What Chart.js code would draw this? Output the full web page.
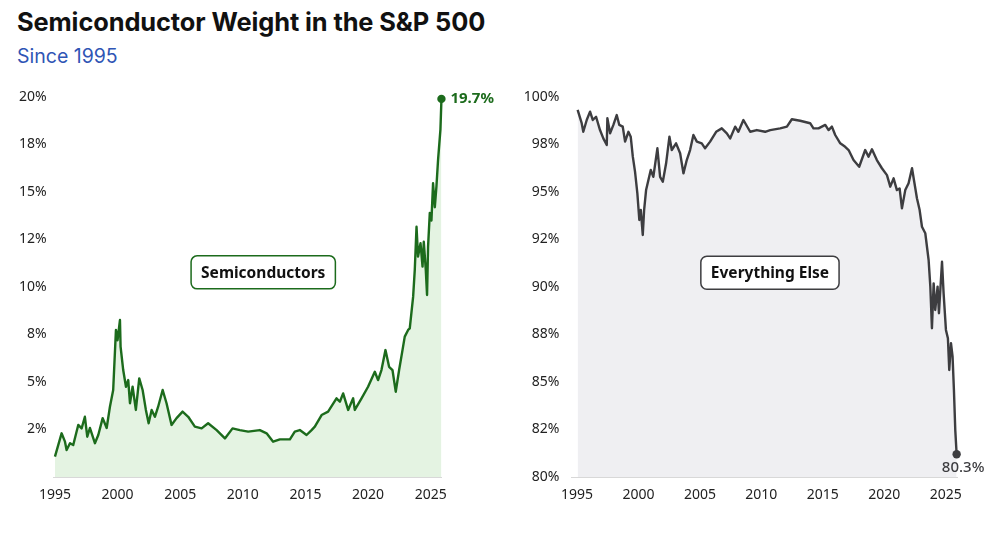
<!DOCTYPE html>
<html>
<head>
<meta charset="utf-8">
<script src="https://cdn.jsdelivr.net/npm/chart.js@4.4.1/dist/chart.umd.min.js"></script>
<style>
  html, body { margin: 0; padding: 0; background: #fff; }
  body { width: 1000px; height: 551px; position: relative; overflow: hidden; }
  #title { position: absolute; left: 17px; top: 7px; font: 700 25.4px/30px Inter, sans-serif; color: #111; letter-spacing: -0.1px; }
  #subtitle { position: absolute; left: 17px; top: 44px; font: 400 19.5px/25px Inter, sans-serif; color: #2f55b5; }
  canvas { position: absolute; top: 0; }
  #leftChart { left: 0; }
  #rightChart { left: 500px; }
</style>
</head>
<body>
<div id="title">Semiconductor Weight in the S&amp;P 500</div>
<div id="subtitle">Since 1995</div>
<canvas id="leftChart" width="500" height="551"></canvas>
<canvas id="rightChart" width="500" height="551"></canvas>
<script>
// Semiconductor weight (%)
const semiYears = [
    1995.00, 1995.53, 1995.80, 1995.93, 1996.20, 1996.46, 1996.86, 1997.13, 1997.39, 1997.58,
    1997.79, 1998.19, 1998.46, 1998.81, 1999.13, 1999.39, 1999.65, 1999.87, 2000.00, 2000.19,
    2000.24, 2000.45, 2000.67, 2000.85, 2000.99, 2001.20, 2001.46, 2001.73, 2002.00, 2002.26,
    2002.48, 2002.72, 2002.98, 2003.24, 2003.60, 2003.91, 2004.31, 2004.71, 2005.19, 2005.64,
    2006.17, 2006.71, 2007.23, 2007.91, 2008.57, 2009.18, 2009.76, 2010.43, 2011.36, 2011.90,
    2012.42, 2012.96, 2013.76, 2014.15, 2014.55, 2015.09, 2015.49, 2015.75, 2016.29, 2016.81,
    2017.48, 2017.75, 2018.01, 2018.41, 2018.81, 2018.94, 2019.48, 2020.00, 2020.54, 2020.80,
    2021.07, 2021.39, 2021.68, 2021.95, 2022.21, 2022.48, 2022.75, 2022.93, 2023.20, 2023.33,
    2023.60, 2023.73, 2023.87, 2023.99, 2024.19, 2024.35, 2024.45, 2024.61, 2024.71, 2024.79,
    2024.93, 2025.06, 2025.19, 2025.33, 2025.46, 2025.59, 2025.78, 2025.86
];
const semiValues = [
    1.07, 2.30, 1.86, 1.42, 1.78, 1.68, 2.74, 2.56, 3.17, 2.12,
    2.58, 1.78, 2.21, 3.10, 2.58, 3.70, 4.58, 7.74, 7.20, 8.26,
    6.86, 5.63, 4.75, 5.10, 3.88, 4.75, 3.53, 5.19, 4.58, 3.53,
    2.83, 3.53, 3.17, 3.70, 4.58, 3.88, 2.74, 3.10, 3.44, 3.17,
    2.65, 2.56, 2.83, 2.47, 2.03, 2.56, 2.47, 2.39, 2.47, 2.30,
    1.86, 1.98, 1.98, 2.39, 2.47, 2.21, 2.47, 2.65, 3.26, 3.44,
    4.14, 3.96, 4.40, 3.53, 4.14, 3.53, 4.14, 4.75, 5.54, 5.10,
    5.63, 6.68, 5.80, 5.63, 4.49, 5.63, 6.68, 7.39, 7.74, 7.82,
    9.49, 10.90, 13.17, 11.60, 12.30, 11.07, 12.38, 10.90, 9.58, 12.10,
    13.90, 13.50, 15.46, 14.20, 15.30, 16.70, 18.30, 19.90
];

// Everything else (%)
const otherYears = [
    1995.05, 1995.38, 1995.51, 1995.79, 1996.06, 1996.28, 1996.55, 1996.87, 1997.14, 1997.42,
    1997.47, 1997.69, 1997.96, 1998.23, 1998.44, 1998.72, 1998.91, 1999.18, 1999.37, 1999.54,
    1999.72, 1999.91, 2000.07, 2000.19, 2000.35, 2000.46, 2000.62, 2000.81, 2001.00, 2001.21,
    2001.54, 2001.76, 2001.98, 2002.25, 2002.52, 2002.71, 2003.06, 2003.39, 2003.66, 2003.93,
    2004.20, 2004.47, 2004.75, 2005.15, 2005.42, 2005.83, 2006.32, 2006.78, 2007.19, 2007.46,
    2007.87, 2008.13, 2008.54, 2009.09, 2009.63, 2010.31, 2010.72, 2011.53, 2012.08, 2012.48,
    2013.16, 2013.97, 2014.24, 2014.65, 2015.20, 2015.47, 2015.74, 2016.01, 2016.42, 2016.82,
    2017.10, 2017.50, 2017.96, 2018.45, 2018.72, 2019.00, 2019.40, 2019.81, 2020.22, 2020.49,
    2020.76, 2021.03, 2021.25, 2021.44, 2021.71, 2021.98, 2022.26, 2022.44, 2022.66, 2022.88,
    2023.07, 2023.34, 2023.61, 2023.75, 2023.88, 2024.02, 2024.15, 2024.34, 2024.45, 2024.70,
    2024.83, 2025.02, 2025.18, 2025.29, 2025.43, 2025.56, 2025.67, 2025.78, 2025.89
];
const otherValues = [
    99.32, 98.62, 98.17, 98.79, 99.23, 98.79, 98.96, 98.26, 97.82, 97.47,
    98.88, 98.09, 98.53, 99.05, 98.53, 98.44, 97.65, 98.17, 97.91, 96.86,
    96.07, 94.93, 93.53, 94.05, 92.74, 94.05, 95.10, 95.63, 96.16, 95.80,
    97.30, 95.80, 95.54, 96.51, 97.91, 97.21, 97.56, 97.04, 95.98, 96.68,
    97.21, 98.00, 97.65, 97.56, 97.30, 97.65, 98.17, 98.35, 98.09, 97.82,
    98.44, 98.17, 98.79, 98.17, 98.26, 98.17, 98.26, 98.35, 98.44, 98.83,
    98.75, 98.62, 98.35, 98.35, 98.53, 98.26, 98.44, 98.00, 97.56, 97.38,
    97.21, 96.68, 96.33, 97.21, 96.86, 97.25, 96.68, 96.25, 95.89, 95.28,
    95.72, 95.10, 95.19, 94.14, 95.10, 95.46, 96.25, 95.54, 94.67, 94.05,
    93.17, 92.83, 91.42, 90.02, 87.83, 90.19, 88.79, 90.02, 88.62, 91.33,
    89.67, 87.74, 87.30, 85.63, 87.04, 86.33, 84.58, 82.47, 81.20
];

// Axis ticks
const xTickYears = [1995, 2000, 2005, 2010, 2015, 2020, 2025];
const leftTickValues = [2.5, 5, 7.5, 10, 12.5, 15, 17.5, 20];
const leftTickLabels = ['2%', '5%', '8%', '10%', '12%', '15%', '18%', '20%'];
const rightTickValues = [80, 82.5, 85, 87.5, 90, 92.5, 95, 97.5, 100];
const rightTickLabels = ['80%', '82%', '85%', '88%', '90%', '92%', '95%', '98%', '100%'];

const TICK_FONT = { family: '"Noto Sans", sans-serif', size: 14 };

// draws the end value and the boxed series name
const labelPlugin = {
    id: 'labels',
    afterDatasetsDraw(chart, args, opts) {
        const { ctx, scales: { x, y } } = chart;
        const pts = chart.getDatasetMeta(0).data;
        const last = pts[pts.length - 1];
        ctx.save();

        ctx.font = opts.endFont;
        ctx.fillStyle = opts.color;
        ctx.textAlign = opts.endAlign;
        ctx.textBaseline = 'middle';
        ctx.fillText(opts.endText, last.x + opts.endDx, last.y + opts.endDy);

        const bx = x.getPixelForValue(opts.boxAt[0]);
        const by = y.getPixelForValue(opts.boxAt[1]);
        ctx.font = '700 15.5px "Noto Sans", sans-serif';
        const w = ctx.measureText(opts.boxText).width + 20;
        const h = 33;
        ctx.beginPath();
        ctx.roundRect(bx - w / 2, by - h / 2, w, h, 6);
        ctx.fillStyle = '#fff';
        ctx.fill();
        ctx.lineWidth = 1.5;
        ctx.strokeStyle = opts.color;
        ctx.stroke();
        ctx.fillStyle = '#111';
        ctx.textAlign = 'center';
        ctx.fillText(opts.boxText, bx, by + 1);
        ctx.restore();
    }
};

function makeChart(id, years, values, cfg) {
    const points = years.map((yr, i) => ({ x: yr, y: values[i] }));
    const lastIdx = points.length - 1;
    return new Chart(document.getElementById(id), {
        type: 'line',
        data: {
            datasets: [{
                data: points,
                borderColor: cfg.color,
                borderWidth: 2.4,
                backgroundColor: cfg.fill,
                fill: 'start',
                tension: 0,
                borderJoinStyle: 'round',
                pointRadius: c => c.dataIndex === lastIdx ? 4.2 : 0,
                pointBackgroundColor: cfg.color,
                pointBorderWidth: 0,
                pointHoverRadius: 0,
                clip: false
            }]
        },
        options: {
            responsive: false,
            animation: false,
            events: [],
            layout: { padding: { left: 0, top: 97, right: cfg.padRight, bottom: 0 } },
            scales: {
                x: {
                    type: 'linear',
                    min: cfg.xMin,
                    max: cfg.xMax,
                    afterBuildTicks: s => { s.ticks = xTickYears.map(v => ({ value: v })); },
                    afterFit: s => { s.height = 74; },
                    grid: { display: false, drawTicks: false },
                    border: { color: '#d8d8d8', width: 1 },
                    ticks: {
                        padding: 10, color: '#222', font: TICK_FONT,
                        maxRotation: 0, autoSkip: false,
                        callback: v => String(v)
                    }
                },
                y: {
                    min: cfg.yMin,
                    max: cfg.yMax,
                    afterBuildTicks: s => { s.ticks = cfg.tickValues.map(v => ({ value: v })); },
                    afterFit: s => { s.width = cfg.yWidth; },
                    grid: { display: false, drawTicks: false },
                    border: { display: false },
                    ticks: {
                        padding: cfg.yPad, color: '#222', font: TICK_FONT,
                        callback: (v, i) => cfg.tickLabels[i]
                    }
                }
            },
            plugins: {
                legend: { display: false },
                tooltip: { enabled: false },
                labels: cfg.labels
            }
        },
        plugins: [labelPlugin]
    });
}

makeChart('leftChart', semiYears, semiValues, {
    color: '#1c6b1c',
    fill: '#e4f3e2',
    xMin: 1994.9, xMax: 2025.88,
    yMin: 0, yMax: 20,
    tickValues: leftTickValues, tickLabels: leftTickLabels,
    yWidth: 53.7, yPad: 7, padRight: 58.3,
    labels: {
        color: '#1c6b1c',
        endText: '19.7%', endFont: '700 15px "Noto Sans", sans-serif',
        endAlign: 'left', endDx: 9, endDy: 0,
        boxText: 'Semiconductors', boxAt: [2011.63, 10.77]
    }
});

makeChart('rightChart', otherYears, otherValues, {
    color: '#3d3d40',
    fill: '#efeff2',
    xMin: 1994.51, xMax: 2025.92,
    yMin: 80, yMax: 100,
    tickValues: rightTickValues, tickLabels: rightTickLabels,
    yWidth: 71, yPad: 11.7, padRight: 43,
    labels: {
        color: '#3d3d40',
        endText: '80.3%', endFont: '500 15px "Noto Sans", sans-serif',
        endAlign: 'center', endDx: 6.5, endDy: 14,
        boxText: 'Everything Else', boxAt: [2010.70, 90.75]
    }
});
</script>
</body>
</html>
